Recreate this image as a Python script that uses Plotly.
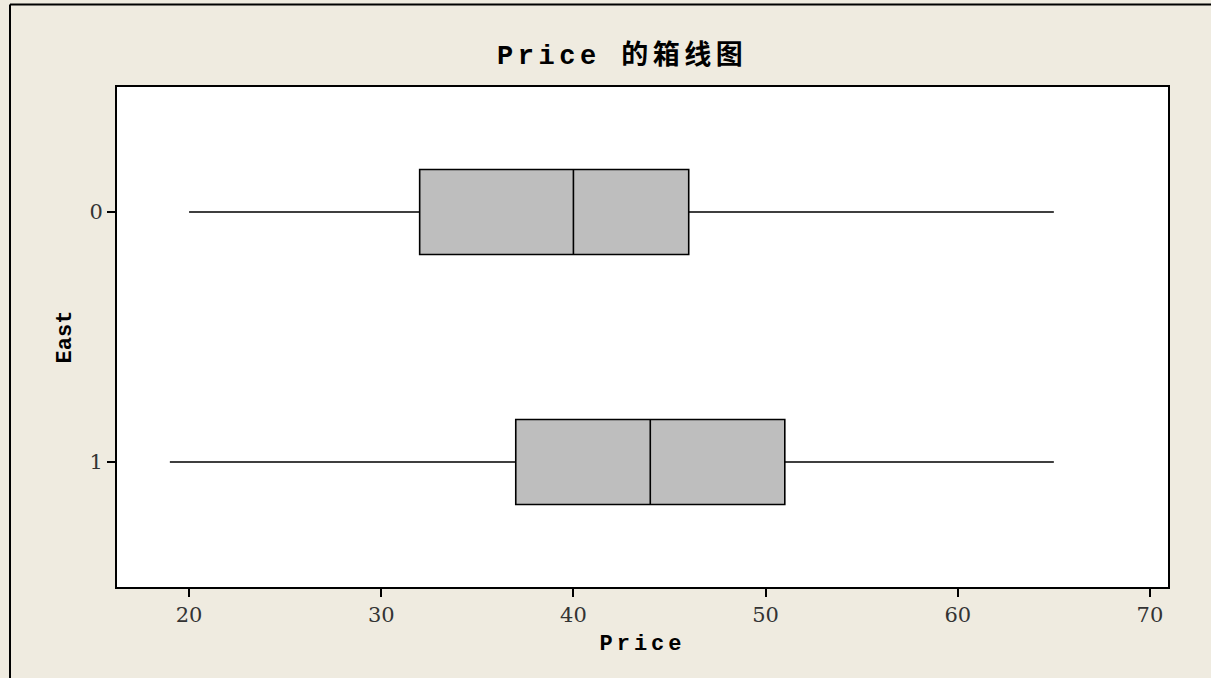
import plotly.graph_objects as go

categories = ["0", "1"]
lower_whisker = [20, 19]
q1_vals = [32, 37]
median_vals = [40, 44]
q3_vals = [46, 51]
upper_whisker = [65, 65]
x_ticks = [20, 30, 40, 50, 60, 70]

fig = go.Figure()
for i, c in enumerate(categories):
    fig.add_trace(go.Box(
        y=[c], orientation="h",
        q1=[q1_vals[i]], median=[median_vals[i]], q3=[q3_vals[i]],
        lowerfence=[lower_whisker[i]], upperfence=[upper_whisker[i]],
        fillcolor="#BEBEBE", line=dict(color="black", width=1.6),
        whiskerwidth=0, width=0.34, boxpoints=False, showlegend=False,
        hoverinfo="skip",
    ))

bg = "#EFEBE0"
W, H = 1211, 678
L, R, T, B = 117, 43, 87, 91
pw, ph = W - L - R, H - T - B
tick_font = dict(family="DejaVu Serif", size=21, color="#333")
fig.update_layout(
    width=W, height=H,
    margin=dict(l=L, r=R, t=T, b=B),
    paper_bgcolor=bg, plot_bgcolor="white",
    title=dict(
        text='<span style="letter-spacing:4.5px">Price 的箱线图</span>',
        x=(657 - L) / pw, xanchor="center", y=1 - 55/H, yanchor="middle",
        font=dict(family="Liberation Mono, Noto Sans CJK SC", size=27, color="black", weight="bold"),
    ),
    xaxis=dict(
        range=[16.25, 70.94], tickvals=x_ticks, ticktext=[str(t) for t in x_ticks],
        showgrid=False, zeroline=False, showline=True, linecolor="black", linewidth=2,
        mirror=True, ticks="outside", ticklen=8, tickwidth=2, tickcolor="black",
        tickfont=tick_font,
        title=dict(text='<span style="letter-spacing:4px">Price</span>', standoff=8,
                   font=dict(family="Liberation Mono", size=22, color="black", weight="bold")),
    ),
    yaxis=dict(
        type="category", categoryorder="array", categoryarray=categories,
        range=[1.5, -0.5],
        showgrid=False, zeroline=False, showline=True, linecolor="black", linewidth=2,
        mirror=True, ticks="outside", ticklen=8, tickwidth=2, tickcolor="black",
        tickfont=tick_font,
        title=dict(text="East", standoff=12,
                   font=dict(family="Liberation Mono", size=22, color="black", weight="bold")),
    ),
    shapes=[
        dict(type="line", xref="paper", yref="paper",
             x0=(10 - L) / pw, x1=(10 - L) / pw, y0=-(B + 2) / ph, y1=(H - B - 4.5) / ph,
             line=dict(color="black", width=2), layer="below"),
        dict(type="line", xref="paper", yref="paper",
             x0=(10 - L) / pw, x1=(W - L + 2) / pw, y0=(H - B - 4.5) / ph, y1=(H - B - 4.5) / ph,
             line=dict(color="black", width=2), layer="below"),
    ],
)

fig.write_html("out.html", config={"displayModeBar": False})
